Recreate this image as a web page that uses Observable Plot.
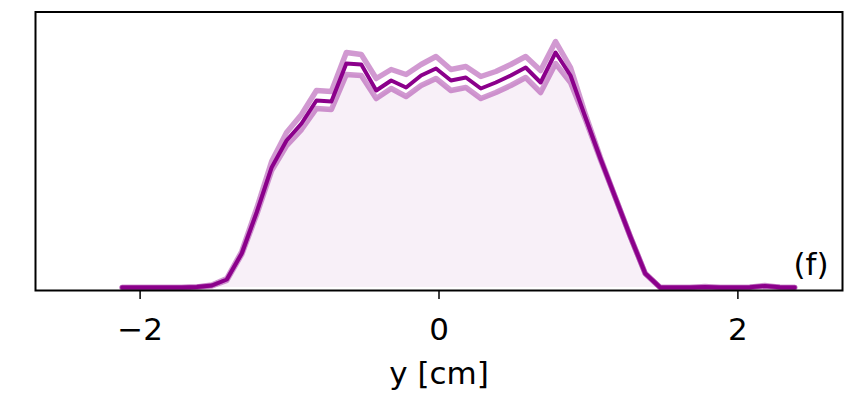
<!DOCTYPE html>
<html>
<head>
<meta charset="utf-8">
<script src="https://cdn.jsdelivr.net/npm/d3@7"></script>
<script src="https://cdn.jsdelivr.net/npm/@observablehq/plot@0.6"></script>
<style>
  html, body { margin: 0; padding: 0; background: #fff; }
  #chart { width: 848px; height: 394px; }
</style>
</head>
<body>
<div id="chart"></div>
<script>
// position y [cm]
const positions = [-2.12, -2.02, -1.92, -1.82, -1.72, -1.62, -1.52, -1.42, -1.32, -1.22,
  -1.12, -1.02, -0.92, -0.82, -0.72, -0.62, -0.52, -0.42, -0.32, -0.22,
  -0.12, -0.02, 0.08, 0.18, 0.28, 0.38, 0.48, 0.58, 0.68, 0.78,
  0.88, 0.98, 1.08, 1.18, 1.28, 1.38, 1.48, 1.58, 1.68, 1.78,
  1.88, 1.98, 2.08, 2.18, 2.28, 2.38];
// profile (arbitrary units)
const meanProfile = [0, 0, 0, 0, 0, 0.5, 2, 8, 34, 75,
  120, 147, 164, 187, 186, 224, 223, 197, 207, 200,
  212, 219, 207, 210, 199, 205, 212, 220, 205, 235,
  212, 170, 129, 90, 51, 14, 0, 0, 0, 0.5,
  0, 0, 0.3, 1.5, 0.3, 0];
const upperProfile = [0, 0, 0, 0, 0, 0.5, 2.5, 9, 36, 79,
  126, 155, 173, 197, 196, 235, 233, 209, 218, 213,
  223, 231, 218, 221, 211, 216, 223, 231, 217, 246,
  220, 173, 130, 90, 51, 14, 0, 0, 0, 1,
  0, 0, 0.3, 2, 0.3, 0];
const lowerProfile = [0, 0, 0, 0, 0, 0.5, 1.5, 7, 33, 73,
  117, 142, 158, 179, 178, 213, 212, 189, 199, 191,
  202, 209, 197, 200, 189, 195, 202, 210, 195, 224,
  205, 168, 128, 90, 51, 14, 0, 0, 0, 0,
  0, 0, 0.3, 1, 0.3, 0];
const xTicks = [-2, 0, 2];
const xLabel = "y [cm]";
const panelLabel = "(f)";

const data = positions.map((x, i) => ({
  x, mean: meanProfile[i], upper: upperProfile[i], lower: lowerProfile[i]
}));

const color = "#8b008b";
const fmt = d => (d < 0 ? "\u2212" + Math.abs(d) : String(d));

const chart = Plot.plot({
  width: 848,
  height: 394,
  marginLeft: 35,
  marginRight: 6,
  marginTop: 11.5,
  marginBottom: 104,
  style: { fontFamily: "DejaVu Sans", background: "#fff", color: "#000" },
  x: { domain: [-2.7, 2.7] },
  y: { domain: [-3, 275.5], axis: null },
  marks: [
    Plot.areaY(data, { x: "x", y1: 0, y2: "lower", fill: color, fillOpacity: 0.06 }),
    Plot.lineY(data, { x: "x", y: "upper", stroke: color, strokeOpacity: 0.4, strokeWidth: 5.5 }),
    Plot.lineY(data, { x: "x", y: "lower", stroke: color, strokeOpacity: 0.4, strokeWidth: 5.5 }),
    Plot.lineY(data, { x: "x", y: "mean", stroke: color, strokeWidth: 4 }),
    Plot.axisX({ ticks: xTicks, tickFormat: fmt, tickSize: 9, tickPadding: 18, fontSize: 31, label: null, strokeWidth: 1.5 }),
    Plot.text([xLabel], { text: d => d, frameAnchor: "bottom", lineAnchor: "middle", dy: 84, fontSize: 31 }),
    Plot.text([panelLabel], { text: d => d, frameAnchor: "bottom-right", textAnchor: "end", lineAnchor: "middle", dx: -14, dy: -25, fontSize: 31 }),
    Plot.frame({ stroke: "#000", strokeWidth: 2 })
  ]
});
document.getElementById("chart").appendChild(chart);
</script>
</body>
</html>
